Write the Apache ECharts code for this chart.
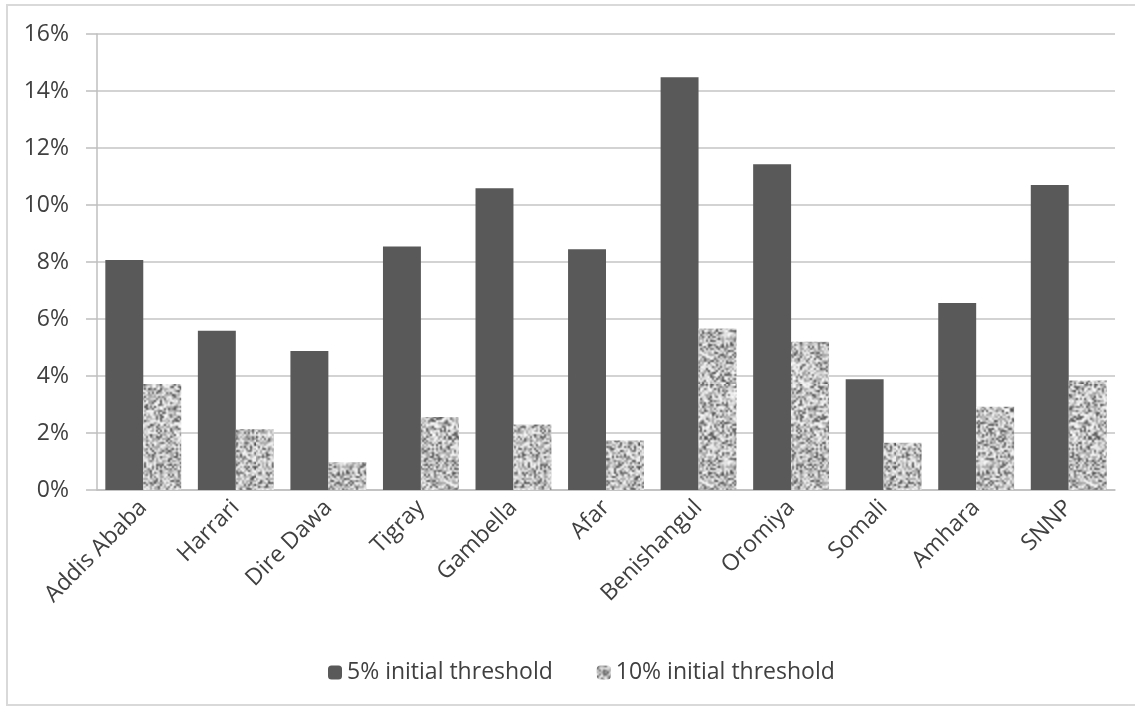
<!DOCTYPE html>
<html>
<head>
<meta charset="utf-8">
<script src="https://cdn.jsdelivr.net/npm/echarts@6/dist/echarts.min.js"></script>
<style>
  html, body { margin: 0; padding: 0; background: #fff; }
  #chart { width: 1135px; height: 706px; }
</style>
</head>
<body>
<div id="chart"></div>
<script>
// Regional shares under two initial thresholds
const regions = ['Addis Ababa', 'Harrari', 'Dire Dawa', 'Tigray', 'Gambella', 'Afar',
                 'Benishangul', 'Oromiya', 'Somali', 'Amhara', 'SNNP'];
const threshold5 = [8.07, 5.59, 4.88, 8.54, 10.59, 8.45, 14.48, 11.43, 3.89, 6.56, 10.7];
const threshold10 = [3.72, 2.13, 0.97, 2.56, 2.3, 1.74, 5.67, 5.2, 1.66, 2.92, 3.84];
const seriesNames = ['5% initial threshold', '10% initial threshold'];

// Speckled grey texture for the second series (deterministic noise, smoothly upscaled)
function speckle() {
  const cells = 64, scale = 2;
  const small = document.createElement('canvas');
  small.width = cells; small.height = cells;
  const sctx = small.getContext('2d');
  const img = sctx.createImageData(cells, cells);
  let s = 24680;
  const rnd = () => { s = (s * 1103515245 + 12345) & 0x7fffffff; return s / 0x7fffffff; };
  for (let i = 0; i < cells * cells; i++) {
    const r = rnd();
    let g;
    if (r < 0.2) g = 80 + rnd() * 50;
    else if (r < 0.5) g = 160 + rnd() * 30;
    else g = 205 + rnd() * 45;
    img.data[i * 4] = g; img.data[i * 4 + 1] = g; img.data[i * 4 + 2] = g; img.data[i * 4 + 3] = 255;
  }
  sctx.putImageData(img, 0, 0);
  const size = cells * scale;
  const big = document.createElement('canvas');
  big.width = size; big.height = size;
  const bctx = big.getContext('2d');
  bctx.imageSmoothingEnabled = true;
  bctx.imageSmoothingQuality = 'high';
  bctx.drawImage(small, 0, 0, size, size);
  return big;
}

const FONT = '"Open Sans"';
const TEXT = '#404040';
const chart = echarts.init(document.getElementById('chart'), null, { renderer: 'canvas' });
chart.setOption({
  animation: false,
  backgroundColor: '#ffffff',
  graphic: [{
    type: 'rect',
    shape: { x: 7, y: 5, width: 1140, height: 700 },
    style: { fill: 'none', stroke: '#d9d9d9', lineWidth: 2 },
    silent: true
  }],
  grid: { left: 97, right: 20, top: 34, bottom: 216 },
  legend: {
    top: 656,
    left: 323,
    itemWidth: 14,
    itemHeight: 14,
    itemGap: 44,
    textStyle: { fontFamily: FONT, fontSize: 23, color: TEXT },
    data: seriesNames
  },
  xAxis: {
    type: 'category',
    data: regions,
    axisLine: { lineStyle: { color: '#bfbfbf', width: 1.5 } },
    axisTick: { length: 8, lineStyle: { color: '#bfbfbf', width: 1.5 } },
    axisLabel: { rotate: 45, margin: 14, fontFamily: FONT, fontSize: 23, color: TEXT, interval: 0 }
  },
  yAxis: {
    type: 'value',
    min: 0, max: 16, interval: 2,
    axisLine: { show: true, lineStyle: { color: '#bfbfbf', width: 1.5 } },
    axisTick: { show: true, length: 11, lineStyle: { color: '#bfbfbf', width: 1.5 } },
    splitLine: { lineStyle: { color: '#c4c4c4', width: 1.5 } },
    axisLabel: { formatter: '{value}%', margin: 28, fontFamily: FONT, fontSize: 23, color: TEXT }
  },
  series: [
    {
      name: seriesNames[0], type: 'bar', data: threshold5,
      barGap: '0%', barCategoryGap: '18%',
      itemStyle: { color: '#595959' }
    },
    {
      name: seriesNames[1], type: 'bar', data: threshold10,
      itemStyle: { color: { image: speckle(), repeat: 'repeat' } }
    }
  ]
});
</script>
</body>
</html>
